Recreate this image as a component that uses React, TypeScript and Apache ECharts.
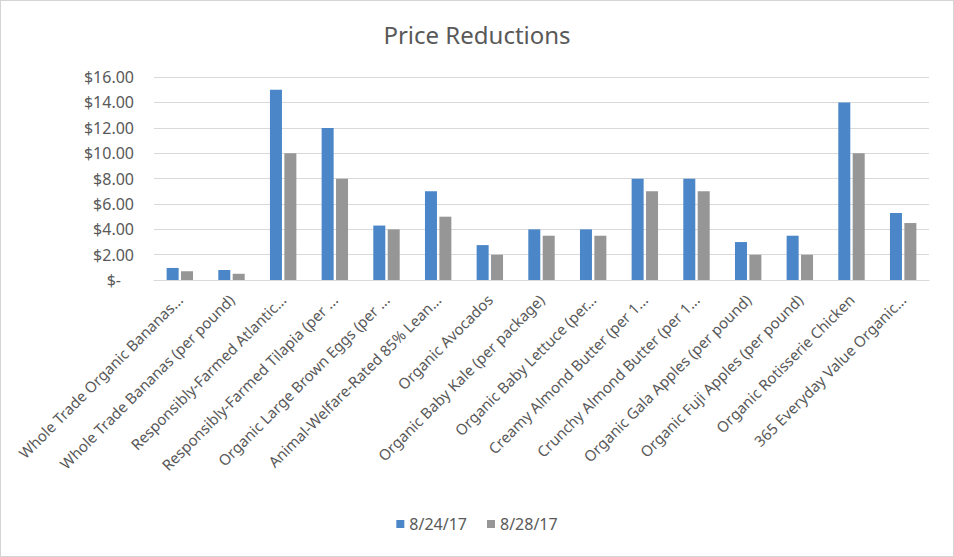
import React, { useEffect, useRef } from "react";
import * as echarts from "echarts";

const categories = [
  "Whole Trade Organic Bananas...",
  "Whole Trade Bananas (per pound)",
  "Responsibly-Farmed Atlantic...",
  "Responsibly-Farmed Tilapia (per ...",
  "Organic Large Brown Eggs (per ...",
  "Animal-Welfare-Rated 85% Lean...",
  "Organic Avocados",
  "Organic Baby Kale (per package)",
  "Organic Baby Lettuce (per...",
  "Creamy Almond Butter (per 1...",
  "Crunchy Almond Butter (per 1...",
  "Organic Gala Apples (per pound)",
  "Organic Fuji Apples (per pound)",
  "Organic Rotisserie Chicken",
  "365 Everyday Value Organic...",
];

const series1Name = "8/24/17";
const series2Name = "8/28/17";
const prices0824 = [0.95, 0.79, 14.99, 11.99, 4.29, 6.99, 2.75, 3.99, 3.99, 7.99, 7.99, 2.99, 3.49, 13.99, 5.29];
const prices0828 = [0.69, 0.49, 9.99, 7.99, 3.99, 4.99, 1.99, 3.49, 3.49, 6.99, 6.99, 1.99, 1.99, 9.99, 4.49];

const yMin = 0;
const yMax = 16;
const yInterval = 2;

const FONT = "'Noto Sans', 'Open Sans', sans-serif";
const TEXT = "#595959";

export default function App() {
  const ref = useRef<HTMLDivElement>(null);
  useEffect(() => {
    if (!ref.current) return;
    const chart = echarts.init(ref.current, undefined, { renderer: "svg" });
    chart.setOption({
      animation: false,
      backgroundColor: "#ffffff",
      textStyle: { fontFamily: FONT },
      title: {
        text: "Price Reductions",
        left: "center",
        top: 16,
        textStyle: { fontFamily: FONT, fontSize: 24, fontWeight: "normal", color: TEXT },
      },
      legend: {
        bottom: 19,
        left: "center",
        itemWidth: 8,
        itemHeight: 8,
        itemGap: 20,
        icon: "rect",
        textStyle: { fontFamily: FONT, fontSize: 16, color: TEXT, padding: [0, 0, 0, 0] },
        data: [series1Name, series2Name],
      },
      grid: { left: 153, right: 24, top: 76, bottom: 276, containLabel: false },
      xAxis: {
        type: "category",
        data: categories,
        axisLine: { show: true, lineStyle: { color: "#d9d9d9", width: 1 } },
        axisTick: { show: false },
        axisLabel: {
          rotate: 45,
          interval: 0,
          margin: 17,
          fontFamily: FONT,
          fontSize: 15,
          color: TEXT,
        },
      },
      yAxis: {
        type: "value",
        min: yMin,
        max: yMax,
        interval: yInterval,
        axisLine: { show: false },
        axisTick: { show: false },
        splitLine: { lineStyle: { color: "#d9d9d9", width: 1 } },
        axisLabel: {
          margin: 20,
          fontFamily: FONT,
          fontSize: 16,
          color: TEXT,
          formatter: (v: number) => (v === 0 ? "{z|$-}" : "$" + v.toFixed(2)),
          rich: {
            z: { fontFamily: FONT, fontSize: 16, color: TEXT, padding: [0, 13, 0, 0] },
          },
        },
      },
      series: [
        {
          name: series1Name,
          type: "bar",
          data: prices0824,
          barWidth: 12,
          barGap: "20%",
          itemStyle: { color: "#4a86c8" },
        },
        {
          name: series2Name,
          type: "bar",
          data: prices0828,
          barWidth: 12,
          itemStyle: { color: "#969696" },
        },
      ],
    });
    return () => chart.dispose();
  }, []);
  return (
    <div
      ref={ref}
      style={{
        position: "fixed",
        left: 0,
        top: 0,
        width: 954,
        height: 557,
        boxSizing: "border-box",
        border: "1px solid #d4d4d4",
        background: "#fff",
      }}
    />
  );
}
